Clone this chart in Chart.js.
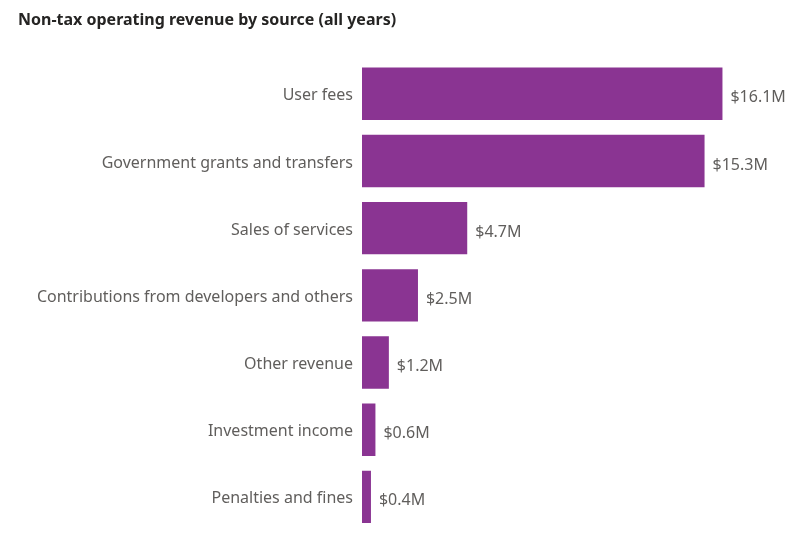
<!DOCTYPE html>
<html>
<head>
<meta charset="utf-8">
<script src="https://cdn.jsdelivr.net/npm/chart.js@4"></script>
<style>
  html, body { margin: 0; padding: 0; background: #fff; }
  #wrap { width: 796px; height: 541px; }
</style>
</head>
<body>
<div id="wrap"><canvas id="myChart" width="796" height="541"></canvas></div>
<script>
// Données (millions $)
const sources = [
  'User fees',
  'Government grants and transfers',
  'Sales of services',
  'Contributions from developers and others',
  'Other revenue',
  'Investment income',
  'Penalties and fines'
];
const revenueM = [16.1, 15.3, 4.7, 2.5, 1.2, 0.6, 0.4];
const valueLabels = ['$16.1M', '$15.3M', '$4.7M', '$2.5M', '$1.2M', '$0.6M', '$0.4M'];

const fontFamily = "'Noto Sans', 'Open Sans', sans-serif";

// Plugin pour écrire la valeur au bout de chaque barre
const endLabels = {
  id: 'endLabels',
  afterDatasetsDraw(chart) {
    const ctx = chart.ctx;
    const meta = chart.getDatasetMeta(0);
    ctx.save();
    ctx.font = '16px ' + fontFamily;
    ctx.fillStyle = '#605e5c';
    ctx.textAlign = 'left';
    ctx.textBaseline = 'middle';
    meta.data.forEach((bar, i) => {
      ctx.fillText(valueLabels[i], bar.x + 8, bar.y + 4);
    });
    ctx.restore();
  }
};

const ctx = document.getElementById('myChart').getContext('2d');
const myChart = new Chart(ctx, {
  type: 'bar',
  data: {
    labels: sources,
    datasets: [{
      data: revenueM,
      backgroundColor: '#8a3492',
      barPercentage: 0.78,
      categoryPercentage: 1
    }]
  },
  plugins: [endLabels],
  options: {
    indexAxis: 'y',
    responsive: false,
    animation: false,
    layout: { padding: { left: 18, right: 31, top: 0, bottom: 10.5 } },
    plugins: {
      legend: { display: false },
      tooltip: { enabled: false },
      title: {
        display: true,
        text: 'Non-tax operating revenue by source (all years)',
        align: 'start',
        color: '#252423',
        font: { family: fontFamily, size: 16, weight: 'bold' },
        padding: { top: 11, bottom: 30 }
      }
    },
    scales: {
      x: {
        display: false,
        min: 0,
        max: 18
      },
      y: {
        grid: { display: false, drawTicks: false },
        border: { display: false },
        ticks: {
          color: '#605e5c',
          padding: 9,
          labelOffset: 2,
          font: { family: fontFamily, size: 16 }
        },
        afterFit(scale) {
          scale.width = 344;
          scale.paddingTop = 0;
          scale.paddingBottom = 0;
        }
      }
    }
  }
});
</script>
</body>
</html>
